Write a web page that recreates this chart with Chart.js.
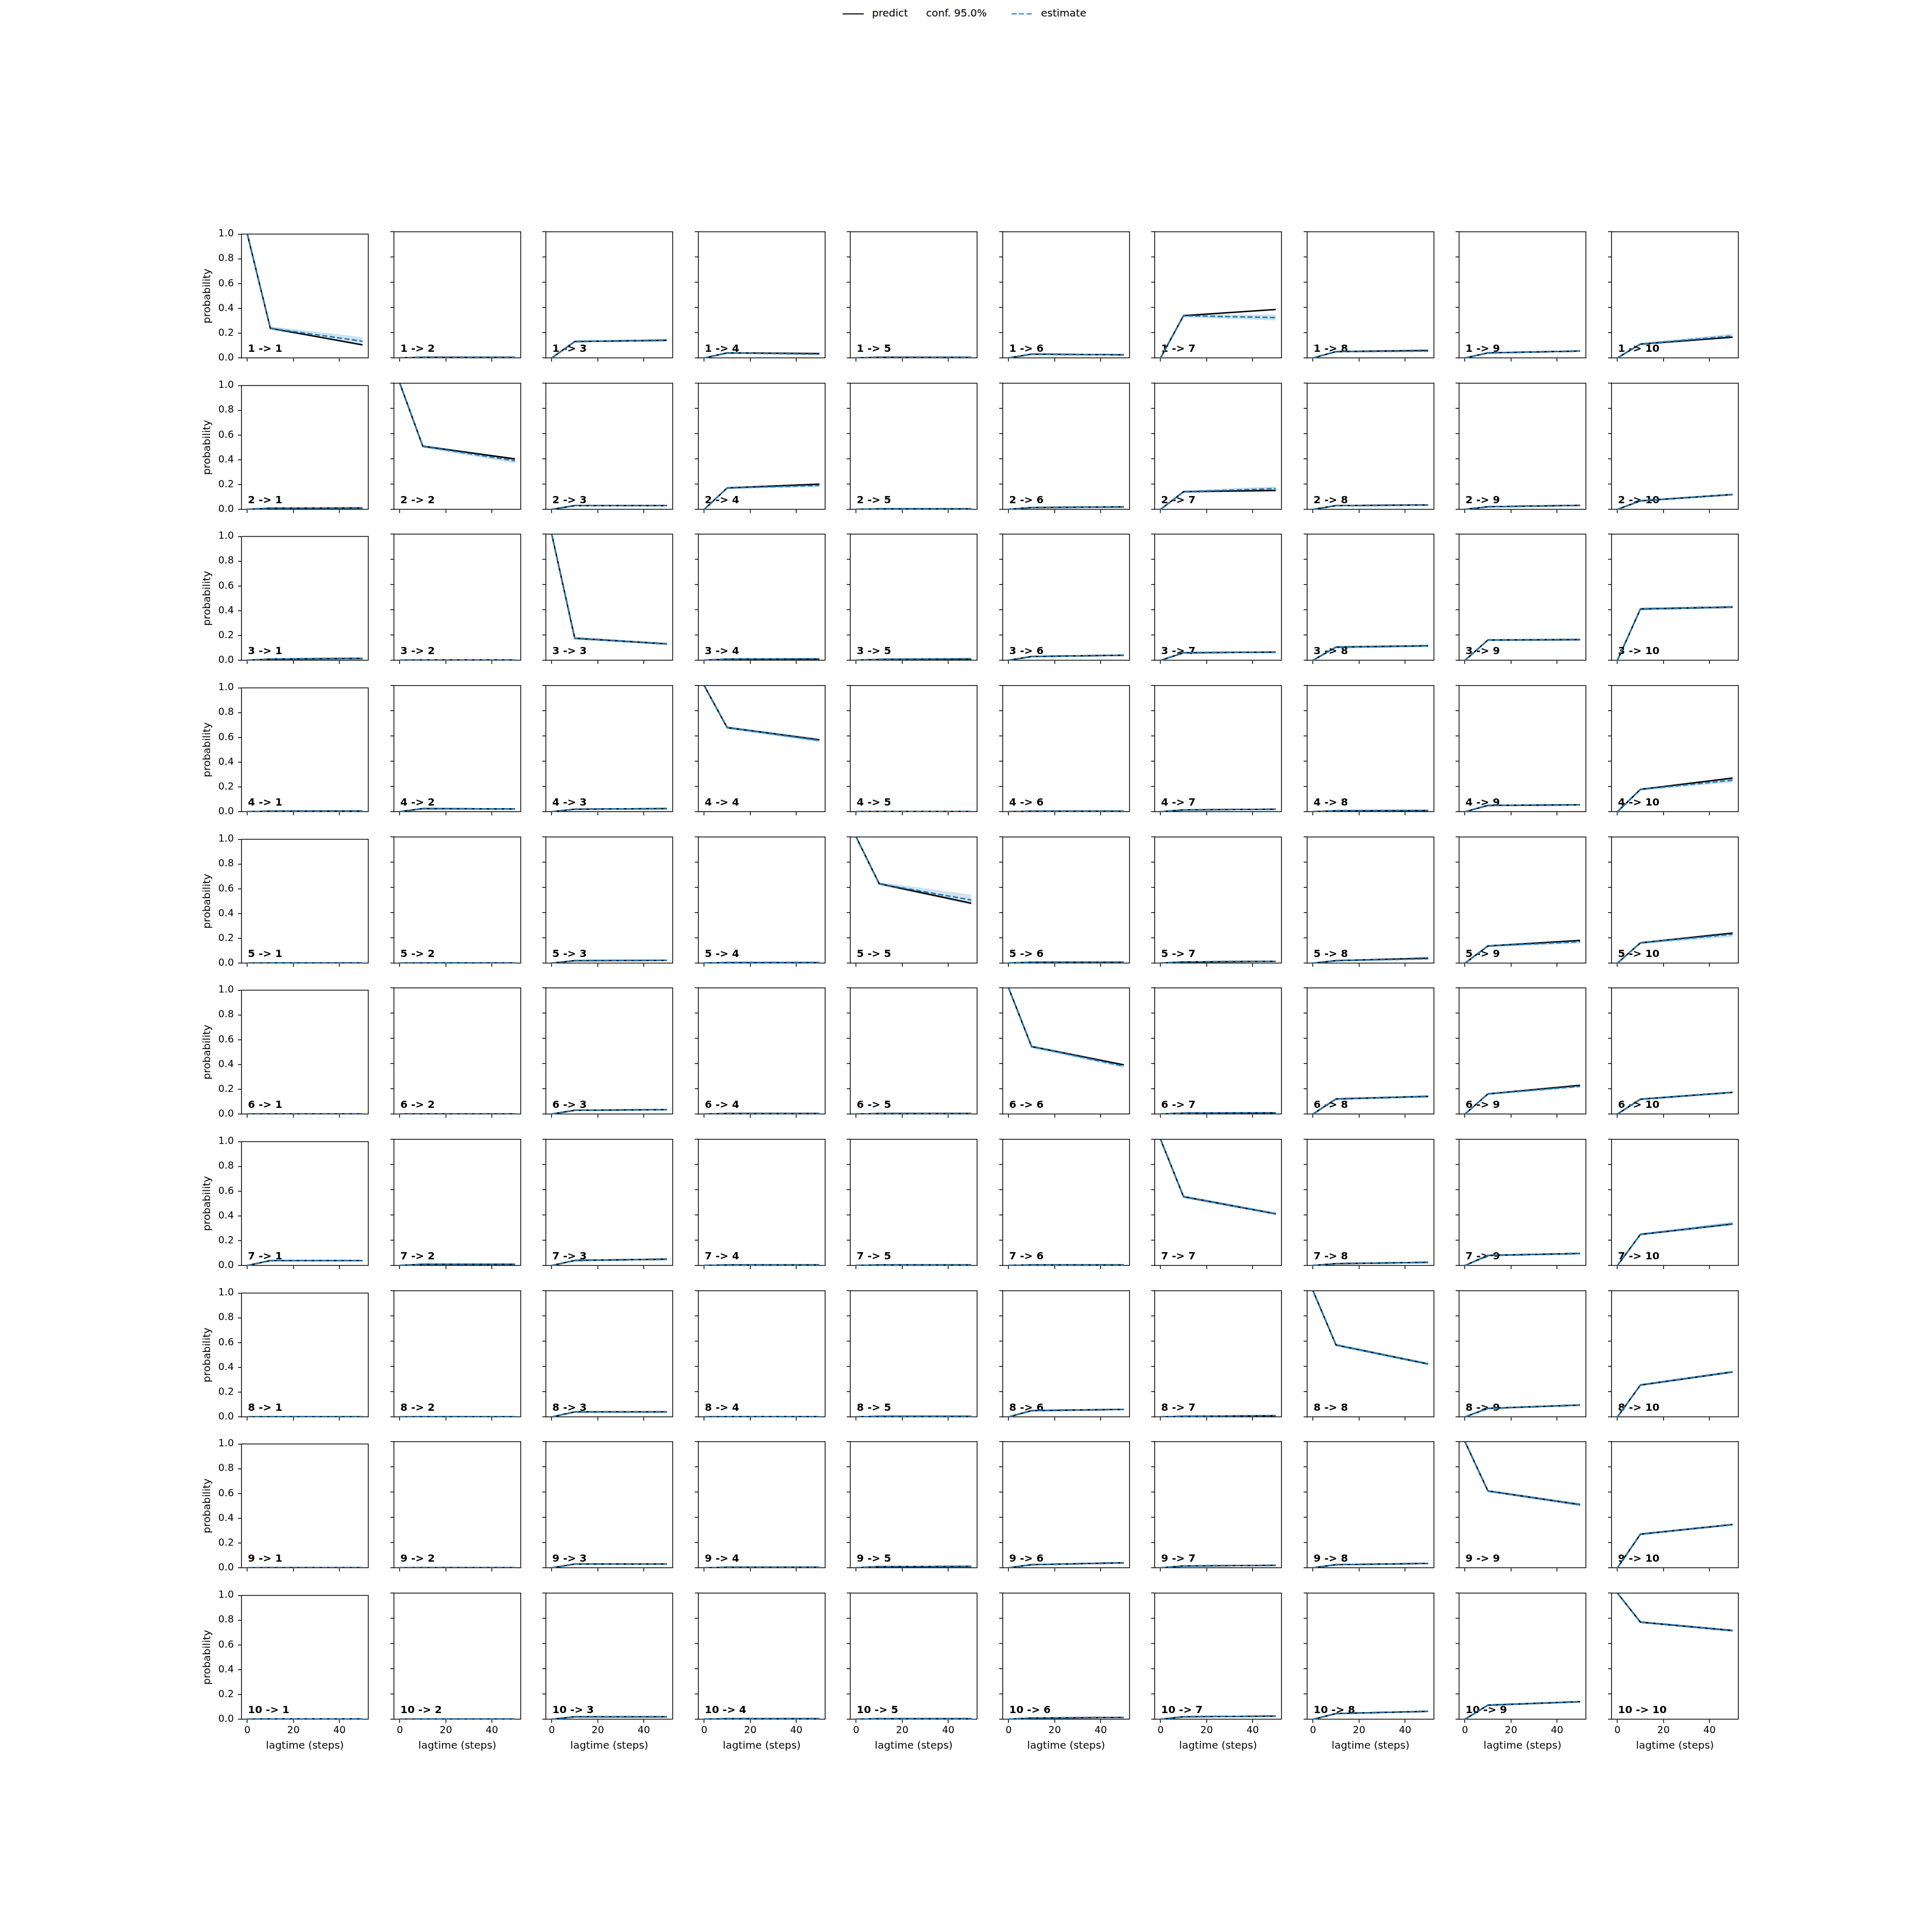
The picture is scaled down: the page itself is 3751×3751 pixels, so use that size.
<!DOCTYPE html>
<html>
<head>
<meta charset="utf-8">
<title>CK test</title>
<script src="https://cdn.jsdelivr.net/npm/chart.js@4.4.1/dist/chart.umd.min.js"></script>
<style>
html, body { margin: 0; padding: 0; background: #fff; }
#fig { position: relative; width: 3751px; height: 3751px; overflow: hidden; font-family: 'DejaVu Sans'; }
#fig canvas { position: absolute; }
.leg { position: absolute; font-size: 20px; line-height: 22px; color: #000; white-space: nowrap; }
</style>
</head>
<body>
<div id="fig"></div>
<script>
/* data */
const states = ['1', '2', '3', '4', '5', '6', '7', '8', '9', '10']
const lagtimes = [0, 10, 50]
const xTicks = [0, 20, 40]
const yTicks = [0, 0.2, 0.4, 0.6, 0.8, 1.0]

// transition probability at lag 10 (predict and estimate coincide there), row = from, col = to
const p10 = [
    [0.24, 0.005, 0.13, 0.04, 0.005, 0.03, 0.335, 0.05, 0.04, 0.11],
    [0.01, 0.50, 0.03, 0.17, 0.004, 0.015, 0.14, 0.03, 0.021, 0.068],
    [0.01, 0.002, 0.175, 0.01, 0.008, 0.03, 0.06, 0.105, 0.161, 0.407],
    [0.005, 0.025, 0.02, 0.667, 0.002, 0.004, 0.015, 0.008, 0.05, 0.177],
    [0.001, 0.001, 0.02, 0.004, 0.63, 0.008, 0.01, 0.02, 0.136, 0.161],
    [0.001, 0.001, 0.03, 0.004, 0.004, 0.535, 0.008, 0.12, 0.16, 0.118],
    [0.04, 0.01, 0.04, 0.005, 0.005, 0.005, 0.545, 0.015, 0.08, 0.247],
    [0.001, 0.001, 0.04, 0.002, 0.005, 0.05, 0.005, 0.57, 0.068, 0.253],
    [0.001, 0.001, 0.03, 0.005, 0.01, 0.025, 0.015, 0.025, 0.609, 0.267],
    [0.002, 0.001, 0.02, 0.005, 0.005, 0.01, 0.02, 0.045, 0.112, 0.77]
]
const predict50 = [
    [0.105, 0.004, 0.14, 0.035, 0.004, 0.025, 0.384, 0.06, 0.055, 0.165],
    [0.012, 0.40, 0.03, 0.20, 0.004, 0.02, 0.15, 0.035, 0.032, 0.118],
    [0.015, 0.002, 0.13, 0.01, 0.01, 0.04, 0.065, 0.115, 0.164, 0.422],
    [0.006, 0.022, 0.025, 0.57, 0.002, 0.004, 0.02, 0.01, 0.055, 0.267],
    [0.001, 0.001, 0.022, 0.004, 0.475, 0.008, 0.015, 0.04, 0.18, 0.238],
    [0.001, 0.001, 0.035, 0.004, 0.004, 0.39, 0.01, 0.14, 0.228, 0.172],
    [0.04, 0.01, 0.05, 0.005, 0.005, 0.005, 0.41, 0.025, 0.095, 0.329],
    [0.001, 0.001, 0.04, 0.002, 0.005, 0.06, 0.01, 0.42, 0.094, 0.357],
    [0.001, 0.001, 0.03, 0.005, 0.012, 0.04, 0.02, 0.035, 0.501, 0.343],
    [0.002, 0.001, 0.02, 0.005, 0.005, 0.015, 0.025, 0.063, 0.139, 0.703]
]
const estimate50 = [
    [0.135, 0.004, 0.14, 0.03, 0.004, 0.025, 0.32, 0.055, 0.055, 0.175],
    [0.012, 0.385, 0.03, 0.19, 0.004, 0.02, 0.165, 0.035, 0.032, 0.118],
    [0.015, 0.002, 0.13, 0.012, 0.012, 0.04, 0.065, 0.115, 0.164, 0.422],
    [0.006, 0.022, 0.025, 0.565, 0.002, 0.004, 0.02, 0.01, 0.055, 0.25],
    [0.001, 0.001, 0.022, 0.004, 0.50, 0.008, 0.015, 0.035, 0.17, 0.229],
    [0.001, 0.001, 0.035, 0.004, 0.004, 0.38, 0.01, 0.14, 0.22, 0.172],
    [0.04, 0.01, 0.05, 0.005, 0.005, 0.005, 0.41, 0.025, 0.095, 0.332],
    [0.001, 0.001, 0.04, 0.002, 0.005, 0.06, 0.01, 0.42, 0.094, 0.357],
    [0.001, 0.001, 0.03, 0.005, 0.012, 0.04, 0.02, 0.035, 0.501, 0.343],
    [0.002, 0.001, 0.02, 0.005, 0.005, 0.015, 0.025, 0.063, 0.139, 0.703]
]
// conf. 95% band of the estimate
const confLow10 = [
    [0.228, 0.003, 0.125, 0.036, 0.003, 0.027, 0.325, 0.046, 0.037, 0.104],
    [0.007, 0.49, 0.026, 0.163, 0.002, 0.012, 0.133, 0.026, 0.018, 0.062],
    [0.005, 0.001, 0.165, 0.007, 0.005, 0.026, 0.055, 0.094, 0.154, 0.397],
    [0.003, 0.021, 0.016, 0.657, 0.001, 0.002, 0.012, 0.006, 0.045, 0.17],
    [0, 0, 0.016, 0.002, 0.62, 0.006, 0.007, 0.016, 0.13, 0.154],
    [0, 0, 0.026, 0.002, 0.002, 0.525, 0.006, 0.113, 0.153, 0.112],
    [0.035, 0.007, 0.035, 0.003, 0.003, 0.003, 0.535, 0.011, 0.074, 0.24],
    [0, 0, 0.036, 0.001, 0.003, 0.046, 0.003, 0.56, 0.063, 0.246],
    [0, 0, 0.026, 0.003, 0.007, 0.021, 0.012, 0.021, 0.6, 0.26],
    [0.001, 0, 0.017, 0.003, 0.003, 0.007, 0.017, 0.041, 0.106, 0.763]
]
const confHigh10 = [
    [0.252, 0.007, 0.137, 0.045, 0.007, 0.034, 0.345, 0.055, 0.044, 0.117],
    [0.013, 0.51, 0.034, 0.178, 0.006, 0.018, 0.148, 0.034, 0.024, 0.074],
    [0.016, 0.004, 0.185, 0.014, 0.012, 0.035, 0.066, 0.112, 0.168, 0.417],
    [0.007, 0.029, 0.024, 0.677, 0.003, 0.006, 0.018, 0.011, 0.055, 0.184],
    [0.002, 0.002, 0.024, 0.006, 0.64, 0.011, 0.013, 0.024, 0.142, 0.168],
    [0.002, 0.002, 0.034, 0.006, 0.006, 0.545, 0.011, 0.127, 0.167, 0.124],
    [0.045, 0.013, 0.045, 0.007, 0.007, 0.007, 0.555, 0.019, 0.086, 0.254],
    [0.002, 0.002, 0.044, 0.003, 0.007, 0.054, 0.007, 0.58, 0.073, 0.26],
    [0.002, 0.002, 0.034, 0.007, 0.013, 0.029, 0.018, 0.029, 0.618, 0.274],
    [0.003, 0.002, 0.023, 0.007, 0.007, 0.013, 0.023, 0.049, 0.118, 0.777]
]
const confLow50 = [
    [0.115, 0.002, 0.13, 0.025, 0.002, 0.02, 0.30, 0.048, 0.05, 0.158],
    [0.008, 0.368, 0.025, 0.18, 0.002, 0.015, 0.15, 0.03, 0.027, 0.11],
    [0.006, 0.001, 0.122, 0.006, 0.005, 0.034, 0.058, 0.107, 0.156, 0.412],
    [0.003, 0.017, 0.02, 0.552, 0.001, 0.002, 0.016, 0.007, 0.05, 0.235],
    [0, 0, 0.018, 0.002, 0.465, 0.005, 0.011, 0.028, 0.158, 0.21],
    [0, 0, 0.03, 0.002, 0.002, 0.368, 0.007, 0.132, 0.212, 0.165],
    [0.035, 0.007, 0.045, 0.003, 0.003, 0.003, 0.40, 0.02, 0.089, 0.32],
    [0, 0, 0.036, 0.001, 0.003, 0.055, 0.007, 0.41, 0.088, 0.348],
    [0, 0, 0.026, 0.003, 0.009, 0.035, 0.016, 0.03, 0.49, 0.335],
    [0.001, 0, 0.017, 0.003, 0.003, 0.011, 0.021, 0.058, 0.133, 0.695]
]
const confHigh50 = [
    [0.165, 0.007, 0.15, 0.037, 0.007, 0.03, 0.34, 0.063, 0.06, 0.19],
    [0.016, 0.40, 0.035, 0.2, 0.006, 0.025, 0.18, 0.04, 0.037, 0.126],
    [0.025, 0.004, 0.138, 0.018, 0.02, 0.046, 0.072, 0.123, 0.172, 0.432],
    [0.009, 0.027, 0.03, 0.58, 0.003, 0.006, 0.024, 0.013, 0.06, 0.262],
    [0.002, 0.002, 0.026, 0.006, 0.54, 0.011, 0.019, 0.042, 0.185, 0.245],
    [0.002, 0.002, 0.04, 0.006, 0.006, 0.393, 0.013, 0.148, 0.232, 0.18],
    [0.045, 0.013, 0.055, 0.007, 0.007, 0.007, 0.42, 0.03, 0.101, 0.345],
    [0.002, 0.002, 0.044, 0.003, 0.007, 0.065, 0.013, 0.43, 0.1, 0.366],
    [0.002, 0.002, 0.034, 0.007, 0.015, 0.045, 0.024, 0.04, 0.512, 0.351],
    [0.003, 0.002, 0.023, 0.007, 0.007, 0.019, 0.029, 0.068, 0.145, 0.711]
]

/* layout */
const FONT = 'DejaVu Sans'
const TICK_FS = 19
const LABEL_FS = 20
const AX_LEFT = 469, AX_TOP = 450, AX_W = 246, AX_H = 245
const COL_STEP = 295.56, ROW_STEP = 293.67
const PAD_L = 100, PAD_R = 10, PAD_T = 15, PAD_B = 80
const BLUE = '#1f77b4'

Chart.defaults.font.family = FONT
Chart.defaults.font.size = TICK_FS
Chart.defaults.color = '#000'

const fig = document.getElementById('fig')

// top/right spines + the "i -> j" tag
const framePlugin = {
    id: 'frame',
    beforeDatasetsDraw(chart, args, opts) {
        const { ctx, chartArea: a } = chart
        ctx.save()
        ctx.font = 'bold ' + LABEL_FS + 'px "' + FONT + '"'
        ctx.fillStyle = '#000'
        ctx.textBaseline = 'alphabetic'
        ctx.textAlign = 'left'
        ctx.fillText(opts.text, a.left + 0.05 * (a.right - a.left), a.bottom - 0.05 * (a.bottom - a.top))
        ctx.restore()
    },
    afterDraw(chart) {
        const { ctx, chartArea: a } = chart
        ctx.save()
        ctx.strokeStyle = '#000'
        ctx.lineWidth = 1.5
        ctx.beginPath()
        ctx.moveTo(a.left, a.top)
        ctx.lineTo(a.right, a.top)
        ctx.lineTo(a.right, a.bottom)
        ctx.stroke()
        ctx.restore()
    }
}

function series(from, to, v10, v50) {
    return [
        { x: lagtimes[0], y: from === to ? 1 : 0 },
        { x: lagtimes[1], y: v10 },
        { x: lagtimes[2], y: v50 }
    ]
}

function makePanel(from, to) {
    const firstCol = to === 0
    const lastRow = from === states.length - 1
    const axLeft = Math.round(AX_LEFT + to * COL_STEP)
    const axTop = Math.round(AX_TOP + from * ROW_STEP)

    const canvas = document.createElement('canvas')
    canvas.width = PAD_L + AX_W + PAD_R
    canvas.height = PAD_T + AX_H + PAD_B
    canvas.style.left = (axLeft - PAD_L) + 'px'
    canvas.style.top = (axTop - PAD_T) + 'px'
    canvas.style.width = canvas.width + 'px'
    canvas.style.height = canvas.height + 'px'
    fig.appendChild(canvas)

    const gridOpts = { drawOnChartArea: false, drawTicks: true, tickLength: 7, color: '#000', lineWidth: 1.5 }
    const borderOpts = { display: true, color: '#000', width: 1.5 }

    new Chart(canvas, {
        type: 'line',
        data: {
            datasets: [
                {
                    label: 'estimate',
                    data: series(from, to, p10[from][to], estimate50[from][to]),
                    borderColor: BLUE, borderWidth: 2.8, borderDash: [10, 4.5],
                    pointRadius: 0, fill: false, tension: 0
                },
                {
                    label: 'predict',
                    data: series(from, to, p10[from][to], predict50[from][to]),
                    borderColor: '#000', borderWidth: 2.8,
                    pointRadius: 0, fill: false, tension: 0
                },
                {
                    label: 'conf low',
                    data: series(from, to, confLow10[from][to], confLow50[from][to]),
                    borderColor: 'rgba(31,119,180,0.2)', borderWidth: 1,
                    pointRadius: 0, fill: false, tension: 0
                },
                {
                    label: 'conf. 95.0%',
                    data: series(from, to, confHigh10[from][to], confHigh50[from][to]),
                    borderColor: 'rgba(31,119,180,0.2)', borderWidth: 1,
                    backgroundColor: 'rgba(31,119,180,0.2)',
                    pointRadius: 0, fill: '-1', tension: 0
                }
            ]
        },
        options: {
            responsive: false,
            maintainAspectRatio: false,
            animation: false,
            events: [],
            devicePixelRatio: 1,
            layout: { padding: { left: 0, top: PAD_T, right: PAD_R, bottom: 0 } },
            plugins: {
                legend: { display: false },
                tooltip: { enabled: false },
                frame: { text: states[from] + ' -> ' + states[to] }
            },
            scales: {
                x: {
                    type: 'linear', min: -2.5, max: 52.5,
                    afterBuildTicks: s => { s.ticks = xTicks.map(v => ({ value: v })) },
                    afterFit: s => { s.height = PAD_B },
                    ticks: { display: lastRow, autoSkip: false, maxRotation: 0, padding: 4, color: '#000', callback: v => String(v) },
                    grid: gridOpts,
                    border: borderOpts,
                    title: { display: lastRow, text: 'lagtime (steps)', color: '#000', font: { size: LABEL_FS }, padding: { top: 0, bottom: 16 } }
                },
                y: {
                    type: 'linear', min: 0, max: 1,
                    afterBuildTicks: s => { s.ticks = yTicks.map(v => ({ value: v })) },
                    afterFit: s => { s.width = PAD_L },
                    ticks: { display: firstCol, autoSkip: false, padding: 8, color: '#000', callback: v => v.toFixed(1) },
                    grid: gridOpts,
                    border: borderOpts,
                    title: { display: firstCol, text: 'probability', color: '#000', font: { size: LABEL_FS }, padding: { top: 22, bottom: 0 } }
                }
            }
        },
        plugins: [framePlugin]
    })
}

for (let i = 0; i < states.length; i++) {
    for (let j = 0; j < states.length; j++) {
        makePanel(i, j)
    }
}

/* legend */
function legItem(html, left, top, css) {
    const d = document.createElement('div')
    d.className = 'leg'
    d.style.left = left + 'px'
    d.style.top = top + 'px'
    if (css) d.style.cssText += css
    d.innerHTML = html
    fig.appendChild(d)
}
legItem('', 1636, 25.6, 'width:41px;height:2.8px;background:#000;')
legItem('predict', 1693, 14)
legItem('conf. 95.0%', 1798, 14)
legItem('', 1964, 25.6, 'width:41px;height:2.8px;background:repeating-linear-gradient(to right,' + BLUE + ' 0 10px,transparent 10px 14.5px);')
legItem('estimate', 2021, 14)
</script>
</body>
</html>
